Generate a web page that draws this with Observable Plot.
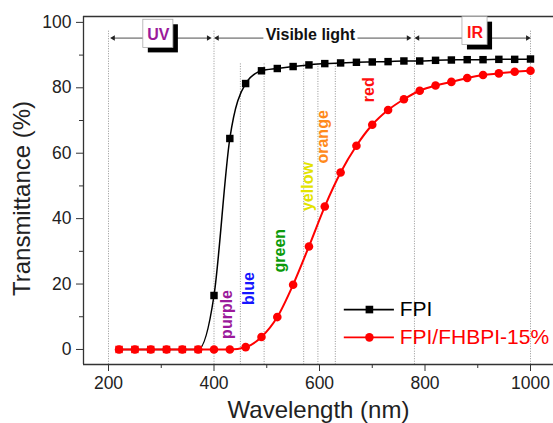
<!DOCTYPE html>
<html><head><meta charset="utf-8">
<script src="https://cdn.jsdelivr.net/npm/d3@7"></script>
<script src="https://cdn.jsdelivr.net/npm/@observablehq/plot@0.6"></script>
<style>body{margin:0;background:#fff}</style>
</head><body><div id="chart"></div>
<script>
// ---- data ----
const wavelength = [220,250,280,310,340,370,400,430,460,490,520,550,580,610,640,670,700,730,760,790,820,850,880,910,940,970,1000];
const fpi   = [0,0,0,0,0,0,16.5,64.5,81.3,85.2,85.9,86.5,87.0,87.4,87.6,87.8,87.9,88.0,88.2,88.2,88.4,88.5,88.6,88.6,88.7,88.7,88.8];
const fhbpi = [0,0,0,0,0,0,0,0,0.7,3.8,9.9,19.8,31.5,43.7,54.1,62.3,68.7,73.2,76.5,79.1,80.7,81.8,83.0,83.9,84.4,84.9,85.2];
const seriesNames = ["FPI", "FPI/FHBPI-15%"];

const xTicks = [200,400,600,800,1000];
const xMinorTicks = [300,500,700,900];
const yTicks = [0,20,40,60,80,100];
const yMinorTicks = [10,30,50,70,90];
const xTitle = "Wavelength (nm)";
const yTitle = "Transmittance (%)";

const bandBorders = [200,400,780,1000];
const colorBorders = [450,495,570,597,630];
const colorNames = ["purple","blue","green","yellow","orange","red"];
const colorLabelX = [424.6,467,525.7,578.8,607,692.7];
const colorLabelY = [10.7,18.6,30.2,49.8,65,79.4];

const regionNames = ["UV","Visible light","IR"];
const regionLabelX = [294.6,582.8,894.8];
const regionLabelY = [96.2,96.2,96.8];
const arrowFrom = [266,323,493.6,672,871,918.6];
const arrowTo   = [209,389.6,406,768.5,786,994.6];
const arrowY = 95.2;
const boxX1 = [266,871], boxX2 = [323,918.6], boxY1 = [92.2,93.1], boxY2 = [100.8,101.6];

// ---- styling / layout ----
const font = "'Liberation Sans', Arial, sans-serif";
const xDomain = [152.6, 1043.6];
const yDomain = [-4.6, 101.8];
const labelColors = ["#9b1a9b","#1515ff","#0a9a0a","#e3e300","#ff8a1c","#ff1010"];
const regionColors = ["#9b1a9b","#111","#ff1010"];
const legendX = [647, 742], legendMarkX = 694.6, legendTextX = 752, legendY = [12.2, 3.7];

const rows = wavelength.map((w,i)=>({w, fpi: fpi[i], fhbpi: fhbpi[i]}));
const colorLabels = colorNames.map((t,i)=>({t, x: colorLabelX[i], y: colorLabelY[i], c: labelColors[i]}));
const regionLabels = regionNames.map((t,i)=>({t, x: regionLabelX[i], y: regionLabelY[i], c: regionColors[i]}));
const arrows = arrowFrom.map((f,i)=>({f, t: arrowTo[i], dir: arrowTo[i] > f ? 90 : -90}));
const boxes = boxX1.map((x1,i)=>({x1, x2: boxX2[i], y1: boxY1[i], y2: boxY2[i]}));
const legend = seriesNames.map((n,i)=>({n, y: legendY[i], c: i ? "#ff0000" : "#000", sym: i ? "circle" : "square"}));

const axisStyle = {stroke: "#333", fill: "#222", fontSize: 17.5, label: null};
const xMid = (xDomain[0] + xDomain[1]) / 2;
const yMid = (yDomain[0] + yDomain[1]) / 2;

const chart = Plot.plot({
  width: 553, height: 423,
  marginLeft: 83, marginRight: 0, marginTop: 16, marginBottom: 59,
  style: {fontFamily: font, background: "#fff", color: "#222", overflow: "visible"},
  x: {domain: xDomain},
  y: {domain: yDomain},
  color: {type: "identity"},
  marks: [
    Plot.ruleX(bandBorders, {y1: 97.3, y2: yDomain[0], stroke: "#888", strokeWidth: 0.9, strokeDasharray: "1,1.5"}),
    Plot.ruleX(colorBorders, {y1: 87.3, y2: yDomain[0], stroke: "#888", strokeWidth: 0.9, strokeDasharray: "1,1.5"}),
    // frame lines
    Plot.ruleX([xDomain[0]], {stroke: "#333", strokeWidth: 1.3}),
    Plot.ruleY([yDomain[0]], {stroke: "#333", strokeWidth: 1.3}),
    Plot.ruleY([yDomain[1]], {stroke: "#333", strokeWidth: 1.3}),
    Plot.axisX(xTicks, {...axisStyle, anchor: "bottom", tickSize: 7, tickPadding: 5, tickFormat: d => String(d)}),
    Plot.axisX(xMinorTicks, {...axisStyle, anchor: "bottom", tickSize: 4, tickFormat: () => ""}),
    Plot.axisY(yTicks, {...axisStyle, anchor: "left", tickSize: 7, tickPadding: 5, tickFormat: d => String(d)}),
    Plot.axisY(yMinorTicks, {...axisStyle, anchor: "left", tickSize: 4, tickFormat: () => ""}),
    Plot.text([xTitle], {text: d => d, x: xMid, y: yDomain[0], dy: 46, lineAnchor: "middle", fontSize: 24, fill: "#222"}),
    Plot.text([yTitle], {text: d => d, x: xDomain[0], y: yMid, dx: -61, dy: 8, lineAnchor: "middle", rotate: -90, fontSize: 24, fill: "#222"}),
    // header: arrows, boxes, labels
    Plot.link(arrows, {x1: "f", x2: "t", y1: arrowY, y2: arrowY, stroke: "#222", strokeWidth: 0.8}),
    Plot.dot(arrows, {x: "t", y: arrowY, symbol: "triangle2", r: 2.6, fill: "#222", rotate: "dir"}),
    Plot.rect(boxes, {x1: "x1", x2: "x2", y1: "y1", y2: "y2", fill: "#000", dx: 5, dy: 5}),
    Plot.rect(boxes, {x1: "x1", x2: "x2", y1: "y1", y2: "y2", fill: "#fff", stroke: "#aaa", strokeWidth: 0.8}),
    Plot.text(regionLabels, {x: "x", y: "y", text: "t", fill: "c", fontWeight: "bold", fontSize: 16}),
    // color band labels
    Plot.text(colorLabels, {x: "x", y: "y", text: "t", fill: "c", rotate: -90, fontWeight: "bold", fontSize: 16}),
    // series
    Plot.line(rows, {x: "w", y: "fpi", stroke: "#000", strokeWidth: 1.5, curve: "monotone-x"}),
    Plot.dot(rows, {filter: d => d.fpi !== d.fhbpi, x: "w", y: "fpi", symbol: "square", r: 4.2, fill: "#000"}),
    Plot.dot(rows, {filter: d => d.fpi === d.fhbpi, x: "w", y: "fpi", symbol: "square", r: 4.2, fill: "#ff0000"}),
    Plot.line(rows, {x: "w", y: "fhbpi", stroke: "#ff0000", strokeWidth: 2, curve: "monotone-x"}),
    Plot.dot(rows, {x: "w", y: "fhbpi", r: 4.3, fill: "#ff0000"}),
    // legend
    Plot.ruleY(legend, {y: "y", x1: legendX[0], x2: legendX[1], stroke: "c", strokeWidth: 1.8}),
    Plot.dot(legend, {x: legendMarkX, y: "y", symbol: "sym", r: 4.3, fill: "c"}),
    Plot.text(legend, {x: legendTextX, y: "y", text: "n", fill: "c", textAnchor: "start", fontSize: 21})
  ]
});
document.getElementById("chart").appendChild(chart);
</script>
</body></html>
